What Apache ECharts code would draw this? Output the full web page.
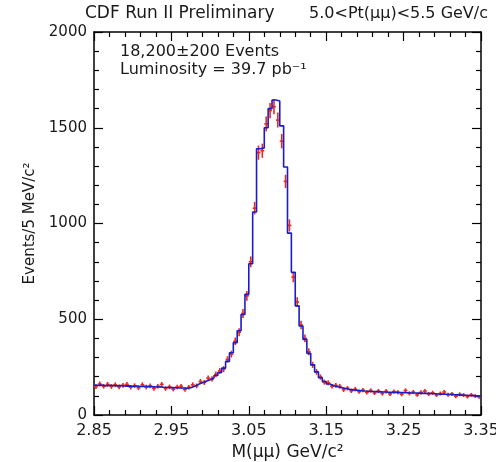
<!DOCTYPE html>
<html><head><meta charset="utf-8">
<script src="https://cdn.jsdelivr.net/npm/echarts@6/dist/echarts.min.js"></script>
<style>html,body{margin:0;padding:0;background:#fff}#c{width:496px;height:462px}</style>
</head><body><div id="c"></div>
<script>
// Histogram binning (5 MeV/c^2 bins from 2.85 to 3.35 GeV/c^2)
const massLow = 2.85;
const massHigh = 3.35;
const binWidth = 0.005;
const xTickLabels = ['2.85', '2.95', '3.05', '3.15', '3.25', '3.35'];
const yTickLabels = ['0', '500', '1000', '1500', '2000'];

// Blue histogram (fit / expectation), events per bin
const fitCounts = [
  155,156,153,155,154,152,154,151,152,150,151,149,150,148,148,146,147,145,144,143,142,141,141,140,142,
  150,160,168,176,184,193,206,222,245,280,325,378,440,525,630,
  790,1060,1390,1395,1500,1600,1645,1640,1510,1295,
  950,745,570,465,395,322,262,225,195,175,162,153,148,
  143,138,134,131,129,127,125,124,123,122,121,120,119,118,118,117,117,116,115,115,
  114,113,113,112,111,110,109,108,107,106,105,104,103,102,101,100,98
];
// Red data points, events per bin
const dataCounts = [
  148,162,150,160,149,158,147,155,160,145,153,142,158,146,152,139,150,160,138,147,135,146,150,133,145,
  158,152,175,170,193,188,212,230,240,290,318,385,432,530,622,
  800,1080,1370,1380,1520,1590,1610,1540,1430,1220,
  990,720,590,470,400,330,262,225,198,172,168,150,155,
  150,132,140,126,135,122,130,118,128,115,125,112,124,110,122,119,108,128,113,120,
  105,118,125,110,116,104,112,120,106,110,98,108,104,96,105,99,95
];

const FONT = 'DejaVu Sans';
const histData = fitCounts.map((v, i) => [massLow + i * binWidth, v]);
histData.push([massHigh, fitCounts[fitCounts.length - 1]]);
const pointData = dataCounts.map((v, i) => [massLow + (i + 0.5) * binWidth, v]);

function axisBase(pos, showLabel) {
  return {
    type: 'value', position: pos,
    axisLine: { show: true, onZero: false, lineStyle: { color: '#000', width: 1.5 } },
    axisTick: { show: true, inside: true, length: 9, lineStyle: { color: '#000', width: 1.2 } },
    minorTick: { show: true, splitNumber: 5, length: 5, lineStyle: { color: '#000', width: 1.2 } },
    splitLine: { show: false }, minorSplitLine: { show: false },
    axisLabel: { show: showLabel, fontFamily: FONT, color: '#1a1a1a' }
  };
}

const xb = Object.assign(axisBase('bottom', true), {
  min: massLow, max: massHigh, interval: 0.1,
  name: 'M(μμ) GeV/c²', nameLocation: 'middle', nameGap: 22,
  nameTextStyle: { fontFamily: FONT, fontSize: 17, color: '#1a1a1a' }
});
xb.axisLabel.fontSize = 16; xb.axisLabel.margin = 8;
xb.axisLabel.formatter = v => xTickLabels.find(t => Math.abs(parseFloat(t) - v) < 1e-6) || v.toFixed(2);
const xt = Object.assign(axisBase('top', false), { min: massLow, max: massHigh, interval: 0.1 });

const yl = Object.assign(axisBase('left', true), {
  min: 0, max: 2000, interval: 500,
  name: 'Events/5 MeV/c²', nameLocation: 'middle', nameGap: 55, nameRotate: 90,
  nameTextStyle: { fontFamily: FONT, fontSize: 15, color: '#1a1a1a' }
});
yl.axisLabel.fontSize = 15; yl.axisLabel.margin = 7;
yl.axisLabel.formatter = v => yTickLabels.find(t => parseFloat(t) === v) || String(v);
const yr = Object.assign(axisBase('right', false), { min: 0, max: 2000, interval: 500 });

const chart = echarts.init(document.getElementById('c'), null, { renderer: 'canvas' });
chart.setOption({
  animation: false,
  backgroundColor: '#fff',
  grid: { left: 94, right: 15, top: 32, bottom: 47, containLabel: false, outerBoundsMode: 'none' },
  xAxis: [xb, xt],
  yAxis: [yl, yr],
  graphic: [
    { type: 'text', left: 85, top: 5, style: { text: 'CDF Run II Preliminary', fontFamily: FONT, fontSize: 17, fill: '#1a1a1a' } },
    { type: 'text', right: 8, top: 6, style: { text: '5.0<Pt(μμ)<5.5 GeV/c', fontFamily: FONT, fontSize: 16, fill: '#1a1a1a' } },
    { type: 'text', left: 120, top: 44, style: { text: '18,200±200 Events', fontFamily: FONT, fontSize: 16, fill: '#1a1a1a' } },
    { type: 'text', left: 120, top: 62, style: { text: 'Luminosity = 39.7 pb⁻¹', fontFamily: FONT, fontSize: 16, fill: '#1a1a1a' } }
  ],
  series: [
    {
      type: 'custom', xAxisIndex: 0, yAxisIndex: 0, clip: true,
      data: pointData,
      renderItem: function (params, api) {
        const x = api.value(0), y = api.value(1), e = Math.sqrt(y);
        const pL = api.coord([x - binWidth / 2, y]);
        const pR = api.coord([x + binWidth / 2, y]);
        const pT = api.coord([x, y + e]);
        const pB = api.coord([x, y - e]);
        const st = { stroke: '#e52a22', lineWidth: 1.6 };
        return { type: 'group', children: [
          { type: 'line', shape: { x1: pL[0], y1: pL[1], x2: pR[0], y2: pR[1] }, style: st },
          { type: 'line', shape: { x1: pT[0], y1: pT[1], x2: pB[0], y2: pB[1] }, style: st }
        ] };
      },
      z: 2
    },
    {
      type: 'line', xAxisIndex: 0, yAxisIndex: 0,
      data: histData, step: 'end', showSymbol: false, symbol: 'none',
      lineStyle: { color: '#1c1cc4', width: 1.6 },
      z: 3
    }
  ]
});
</script>
</body></html>
